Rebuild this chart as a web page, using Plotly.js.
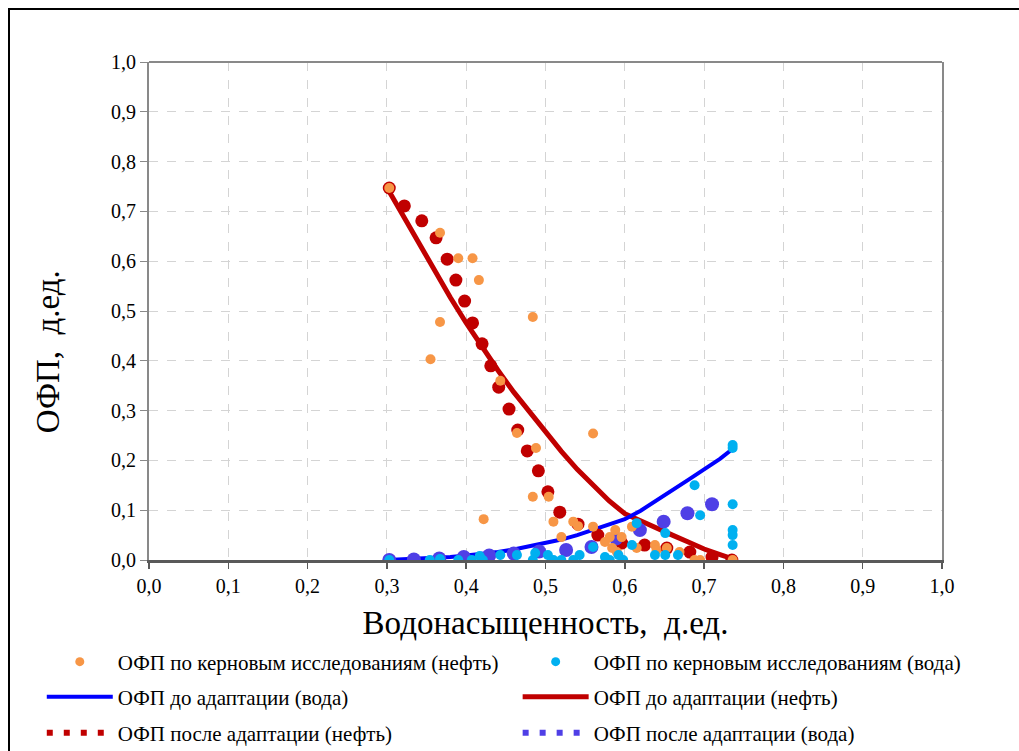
<!DOCTYPE html>
<html>
<head>
<meta charset="utf-8">
<script src="https://cdn.plot.ly/plotly-3.0.1.min.js"></script>
<style>
  html, body { margin: 0; padding: 0; background: #fff; }
  #wrap { position: relative; width: 1019px; height: 751px; overflow: hidden; }
  #frame { position: absolute; left: 8px; top: 8px; width: 1100px; height: 900px;
           border-left: 2px solid #000; border-top: 2px solid #000; }
  #chart { position: absolute; left: 0; top: 0; width: 1019px; height: 751px; }
</style>
</head>
<body>
<div id="wrap"><div id="frame"></div><div id="chart"></div></div>
<script>
// Curves "before adaptation"
const swCurve = [0.30,0.32,0.34,0.36,0.38,0.40,0.42,0.44,0.46,0.48,0.50,0.52,0.54,0.56,0.58,0.60,0.62,0.64,0.66,0.68,0.70,0.72,0.735];
const kroBefore = [0.748,0.692,0.636,0.581,0.527,0.476,0.427,0.381,0.337,0.296,0.256,0.218,0.182,0.149,0.119,0.093,0.078,0.064,0.050,0.036,0.022,0.011,0.003];
const krwBefore = [0.0,0.001,0.002,0.004,0.006,0.009,0.012,0.016,0.021,0.027,0.033,0.041,0.050,0.060,0.070,0.082,0.099,0.119,0.140,0.161,0.182,0.203,0.222];

// After adaptation (markers)
const swOilAfter = [0.303,0.322,0.344,0.362,0.376,0.387,0.398,0.408,0.420,0.431,0.441,0.454,0.465,0.477,0.491,0.503,0.518,0.541,0.566,0.596,0.625,0.653,0.682,0.710,0.735];
const kroAfter = [0.747,0.711,0.681,0.647,0.604,0.562,0.520,0.476,0.434,0.390,0.347,0.303,0.261,0.219,0.179,0.137,0.096,0.072,0.050,0.034,0.030,0.024,0.016,0.006,0.0];
const swWaterAfter = [0.303,0.334,0.366,0.397,0.429,0.460,0.492,0.526,0.558,0.589,0.619,0.649,0.679,0.710];
const krwAfter = [0.0,0.001,0.003,0.006,0.009,0.013,0.017,0.020,0.026,0.043,0.060,0.077,0.094,0.112];

// Core study data
const swCoreOil = [0.303,0.367,0.390,0.408,0.416,0.367,0.355,0.484,0.443,0.464,0.488,0.484,0.504,0.422,0.510,0.520,0.560,0.535,0.541,0.560,0.575,0.581,0.588,0.596,0.584,0.590,0.609,0.615,0.638,0.640,0.653,0.669,0.688,0.695,0.736];
const kroCore = [0.747,0.657,0.606,0.606,0.562,0.478,0.403,0.488,0.360,0.255,0.225,0.127,0.127,0.082,0.077,0.046,0.254,0.077,0.068,0.067,0.036,0.046,0.060,0.046,0.024,0.016,0.067,0.024,0.030,0.020,0.024,0.016,0.0,0.0,0.0];
const swCoreWater = [0.303,0.354,0.367,0.390,0.407,0.417,0.421,0.443,0.464,0.484,0.487,0.503,0.510,0.520,0.535,0.543,0.560,0.575,0.581,0.592,0.598,0.609,0.615,0.638,0.651,0.651,0.667,0.688,0.695,0.736,0.736,0.736,0.736,0.736,0.736];
const krwCore = [0.0,0.0,0.002,0.0,0.0,0.008,0.0,0.010,0.010,0.0,0.014,0.010,0.0,0.0,0.0,0.010,0.026,0.006,0.0,0.010,0.0,0.030,0.074,0.010,0.010,0.054,0.010,0.150,0.090,0.231,0.225,0.112,0.060,0.050,0.030];

const tickVals = [0,0.1,0.2,0.3,0.4,0.5,0.6,0.7,0.8,0.9,1.0];
const tickText = ['0,0','0,1','0,2','0,3','0,4','0,5','0,6','0,7','0,8','0,9','1,0'];

const names = {
  coreOil: 'ОФП по керновым исследованиям (нефть)',
  coreWater: 'ОФП по керновым исследованиям (вода)',
  beforeWater: 'ОФП до адаптации (вода)',
  beforeOil: 'ОФП до адаптации (нефть)',
  afterOil: 'ОФП после адаптации (нефть)',
  afterWater: 'ОФП после адаптации (вода)'
};
const xTitle = 'Водонасыщенность,\u00A0 д.ед.';
const yTitle = 'ОФП,\u00A0 д.ед.';

const C = { red: '#C00000', blue: '#0000FF', orange: '#F79646', cyan: '#00B0F0', purple: '#4F3FE6' };
const FONT = 'Liberation Serif, Times New Roman, serif';

const traces = [
  { x: swCurve, y: kroBefore, mode: 'lines', name: names.beforeOil, line: { color: C.red, width: 5 }, showlegend: false },
  { x: swCurve, y: krwBefore, mode: 'lines', name: names.beforeWater, line: { color: C.blue, width: 4 }, showlegend: false },
  { x: swOilAfter, y: kroAfter, mode: 'markers', name: names.afterOil, marker: { color: C.red, size: 13 }, showlegend: false },
  { x: swWaterAfter, y: krwAfter, mode: 'markers', name: names.afterWater, marker: { color: C.purple, size: 14 }, showlegend: false },
  { x: swCoreOil, y: kroCore, mode: 'markers', name: names.coreOil, marker: { color: C.orange, size: 10 }, showlegend: false },
  { x: swCoreWater, y: krwCore, mode: 'markers', name: names.coreWater, marker: { color: C.cyan, size: 10 }, showlegend: false },
  // legend entries
  { x: [null], y: [null], mode: 'markers', name: names.coreOil, marker: { color: C.orange, size: 9 }, legend: 'legend' },
  { x: [null], y: [null], mode: 'markers', name: names.coreWater, marker: { color: C.cyan, size: 9 }, legend: 'legend2' },
  { x: [null], y: [null], mode: 'lines', name: names.beforeWater, line: { color: C.blue, width: 4 }, legend: 'legend3' },
  { x: [null], y: [null], mode: 'lines', name: names.beforeOil, line: { color: C.red, width: 5 }, legend: 'legend4' },
  { x: [null], y: [null], mode: 'lines', name: names.afterOil, line: { color: C.red, width: 6, dash: '6px,11px' }, legend: 'legend5' },
  { x: [null], y: [null], mode: 'lines', name: names.afterWater, line: { color: C.purple, width: 6, dash: '6px,11px' }, legend: 'legend6' }
];

function leg(x, yPix) {
  return {
    orientation: 'h',
    xref: 'container', yref: 'container', x: x, y: 1 - yPix / 751, xanchor: 'left', yanchor: 'middle',
    itemwidth: 66, font: { family: FONT, size: 21, color: '#000' },
    bgcolor: 'rgba(0,0,0,0)', itemclick: false, itemdoubleclick: false
  };
}

const layout = {
  width: 1019, height: 751,
  margin: { l: 149, r: 77, t: 62, b: 191, autoexpand: false },
  paper_bgcolor: 'rgba(0,0,0,0)', plot_bgcolor: '#fff',
  font: { family: FONT, color: '#000' },
  showlegend: true,
  xaxis: {
    range: [0, 1], tickvals: tickVals, ticktext: tickText, ticks: 'outside', ticklen: 6, tickwidth: 1.5, tickcolor: '#595959',
    showline: true, linecolor: '#595959', linewidth: 2.5, zeroline: false,
    showgrid: true, gridcolor: '#d4d4d4', griddash: 'dash', gridwidth: 1,
    tickfont: { family: FONT, size: 20, color: '#000' },
    title: { text: xTitle, font: { family: FONT, size: 33, color: '#000' }, standoff: 24 }
  },
  yaxis: {
    range: [0, 1], tickvals: tickVals, ticktext: tickText, ticks: 'outside', ticklen: 7, tickwidth: 1, tickcolor: '#898989',
    showline: true, linecolor: '#898989', linewidth: 2, mirror: true, zeroline: false,
    showgrid: true, gridcolor: '#d4d4d4', griddash: 'dash', gridwidth: 1,
    tickfont: { family: FONT, size: 20, color: '#000' }
  },
  annotations: [
    { text: yTitle, textangle: -90, xref: 'paper', yref: 'paper', x: -0.128, y: 0.418,
      xanchor: 'center', yanchor: 'middle', showarrow: false, font: { family: FONT, size: 33, color: '#000' } }
  ],
  shapes: [
    { type: 'line', xref: 'paper', yref: 'paper', x0: 0, x1: 1, y0: 1, y1: 1, line: { color: '#898989', width: 2 } }
  ],
  legend: leg(0.041, 662),
  legend2: leg(0.508, 662),
  legend3: leg(0.041, 697),
  legend4: leg(0.508, 697),
  legend5: leg(0.041, 733),
  legend6: leg(0.508, 733)
};

Plotly.newPlot('chart', traces, layout, { displayModeBar: false, staticPlot: true });
</script>
</body>
</html>
